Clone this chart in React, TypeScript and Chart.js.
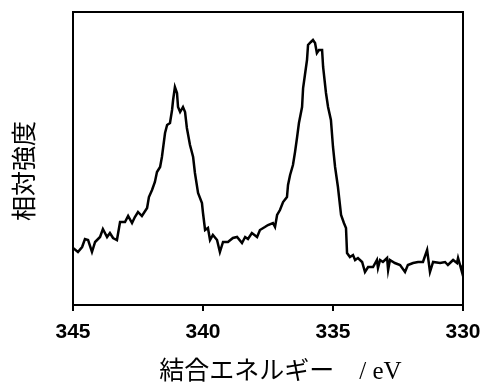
import React, { useEffect, useRef } from "react";
import { Chart, registerables } from "chart.js";

Chart.register(...registerables);

// Binding energy (eV) and relative intensity (arb. units)
const energies: number[] = [
  345.0, 344.81, 344.65, 344.54, 344.42, 344.27, 344.15, 343.96, 343.85, 343.69,
  343.58, 343.46, 343.31, 343.19, 343.0, 342.88, 342.73, 342.62, 342.5, 342.35,
  342.15, 342.08, 341.96, 341.85, 341.77, 341.65, 341.58, 341.46, 341.38, 341.27,
  341.19, 341.15, 341.08, 341.0, 340.96, 340.88, 340.77, 340.69, 340.62, 340.5,
  340.38, 340.31, 340.19, 340.04, 340.0, 339.92, 339.81, 339.73, 339.62, 339.46,
  339.35, 339.23, 339.04, 338.85, 338.69, 338.5, 338.38, 338.27, 338.12, 337.92,
  337.81, 337.62, 337.5, 337.31, 337.23, 337.15, 337.04, 336.92, 336.77, 336.73,
  336.65, 336.54, 336.46, 336.38, 336.31, 336.19, 336.15, 336.08, 336.0, 335.96,
  335.85, 335.77, 335.69, 335.62, 335.54, 335.42, 335.38, 335.27, 335.19, 335.08,
  335.0, 334.92, 334.81, 334.69, 334.58, 334.5, 334.46, 334.35, 334.23, 334.15,
  334.04, 333.88, 333.77, 333.65, 333.46, 333.31, 333.27, 333.19, 333.08, 332.92,
  332.88, 332.81, 332.62, 332.42, 332.23, 332.12, 331.92, 331.73, 331.54, 331.38,
  331.27, 331.15, 330.88, 330.69, 330.58, 330.38, 330.23, 330.19, 330.04, 330.0,
];

const intensities: number[] = [
  57, 53, 58, 66, 65, 53, 63, 68, 76, 68,
  72, 67, 65, 83, 83, 89, 82, 88, 93, 89,
  97, 108, 115, 123, 133, 138, 148, 172, 180, 182,
  195, 205, 218, 212, 198, 193, 198, 193, 177, 160,
  148, 132, 112, 102, 92, 75, 77, 65, 70, 65,
  53, 63, 63, 67, 68, 62, 68, 66, 72, 68,
  75, 78, 80, 82, 78, 90, 95, 103, 108, 120,
  130, 140, 153, 168, 182, 198, 217, 230, 245, 260,
  263, 265, 262, 252, 255, 255, 238, 212, 198, 185,
  158, 138, 118, 90, 82, 77, 52, 48, 50, 45,
  47, 43, 33, 38, 38, 45, 37, 45, 43, 47,
  35, 45, 42, 40, 33, 40, 42, 43, 43, 55,
  33, 43, 42, 43, 40, 45, 42, 47, 33, 40,
];

const xTicks: number[] = [345, 340, 335, 330];
const xTitle = "　結合エネルギー　/ eV";
const yTitle = "相対強度　";

const framePlugin = {
  id: "frame",
  afterDatasetsDraw(chart: any) {
    const { ctx, chartArea } = chart;
    ctx.save();
    ctx.strokeStyle = "#000";
    ctx.lineWidth = 2;
    ctx.strokeRect(
      chartArea.left,
      chartArea.top,
      chartArea.right - chartArea.left,
      chartArea.bottom - chartArea.top
    );
    ctx.restore();
  },
};

export default function App() {
  const ref = useRef<HTMLCanvasElement | null>(null);

  useEffect(() => {
    if (!ref.current) return;
    const data = energies.map((e, i) => ({ x: e, y: intensities[i] }));
    const chart = new Chart(ref.current, {
      type: "line",
      data: {
        datasets: [
          {
            data,
            borderColor: "#000",
            borderWidth: 2.5,
            pointRadius: 0,
            tension: 0,
            fill: false,
          },
        ],
      },
      options: {
        animation: false,
        responsive: false,
        maintainAspectRatio: false,
        layout: { padding: { top: 12, right: 27, bottom: 0, left: 0 } },
        plugins: {
          legend: { display: false },
          tooltip: { enabled: false },
        },
        scales: {
          x: {
            type: "linear",
            reverse: true,
            min: 330,
            max: 345,
            afterBuildTicks: (s: any) => {
              s.ticks = xTicks.map((v) => ({ value: v }));
            },
            afterFit: (s: any) => {
              s.height = 80;
            },
            grid: {
              display: true,
              drawOnChartArea: false,
              drawTicks: true,
              tickLength: 6,
              color: "#000",
              lineWidth: 2,
            },
            border: { display: false },
            ticks: {
              color: "#000",
              padding: 9,
              maxRotation: 0,
              font: { family: "'Liberation Sans', Arial, sans-serif", size: 21, weight: "bold" },
            },
            title: {
              display: true,
              text: xTitle,
              color: "#000",
              padding: { top: 0, bottom: 0 },
              font: {
                family: "'Liberation Serif', 'Noto Sans CJK JP', serif",
                size: 25,
                lineHeight: 1,
              },
            },
          },
          y: {
            min: 0,
            max: 293,
            afterFit: (s: any) => {
              s.width = 73;
            },
            grid: { display: false },
            border: { display: false },
            ticks: { display: false },
            title: {
              display: true,
              text: yTitle,
              color: "#000",
              padding: { top: 14, bottom: 0 },
              font: {
                family: "'Liberation Serif', 'Noto Sans CJK JP', serif",
                size: 25,
                lineHeight: 1,
              },
            },
          },
        },
      },
      plugins: [framePlugin],
    });
    return () => chart.destroy();
  }, []);

  return (
    <div style={{ position: "absolute", left: 0, top: 0, width: 490, height: 385 }}>
      <canvas ref={ref} width={490} height={385} style={{ width: 490, height: 385 }} />
    </div>
  );
}
